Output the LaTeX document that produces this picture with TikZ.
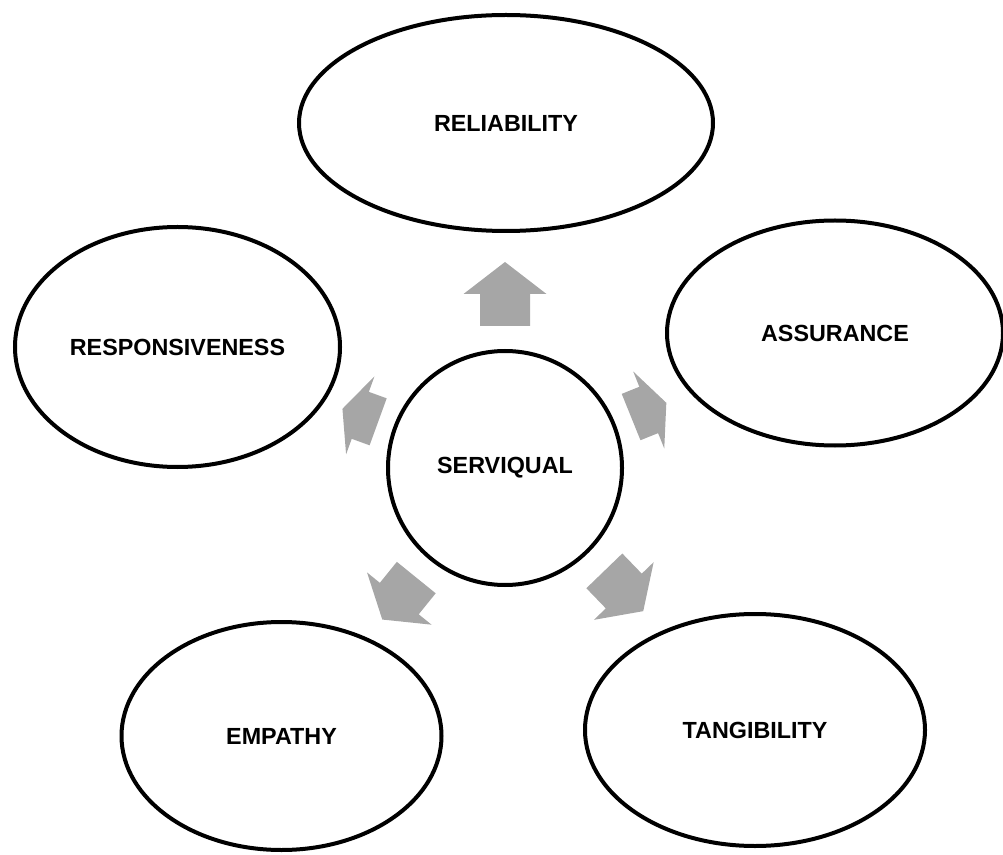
\documentclass[tikz,border=0pt]{standalone}
\usepackage{fontspec}
\setmainfont{Liberation Sans}
\usetikzlibrary{shapes.geometric}
\definecolor{arrowgray}{HTML}{A6A6A6}

% Block arrow pointing away from the hub.
% #1 = direction (degrees, y downwards), #2 = distance of the tail from the hub centre,
% #3 = total length (shaft and head share it equally)
\newcommand\hubarrow[3]{%
  \begin{scope}[shift={(sq.center)}, rotate=-#1]
    \fill[spoke] (#2,-25) -- ({#2+#3/2},-25) -- ({#2+#3/2},-41.5) -- ({#2+#3},0)
      -- ({#2+#3/2},41.5) -- ({#2+#3/2},25) -- (#2,25) -- cycle;
  \end{scope}}

\begin{document}
\begin{tikzpicture}[x=0.75pt, y=-0.75pt,
  bubble/.style={ellipse, draw=black, line width=3pt, fill=white, inner sep=0pt,
    font=\fontsize{17.5}{21}\selectfont\bfseries},
  spoke/.style={fill=arrowgray}]
\useasboundingbox (0,0) rectangle (1003,855);

% hub
\node[bubble, circle, minimum size=175.5pt] (sq) at (505,468) {SERVIQUAL};

% arrows radiating from the hub
\hubarrow{-90}{142}{64}
\hubarrow{-22}{136}{38}
\hubarrow{46}{143}{56}
\hubarrow{129}{141}{54}
\hubarrow{200}{135}{38}

% the five dimensions
\node[bubble, minimum width=310.5pt, minimum height=162pt] (rel) at (506,123) {RELIABILITY};
\node[bubble, minimum width=252pt, minimum height=168.75pt] (ass) at (835,333) {ASSURANCE};
\node[bubble, minimum width=255pt, minimum height=174pt] (tan) at (755,730) {TANGIBILITY};
\node[bubble, minimum width=240pt, minimum height=171pt] (emp) at (281.5,736) {EMPATHY};
\node[bubble, minimum width=243.75pt, minimum height=180pt] (res) at (177.5,347) {RESPONSIVENESS};
\end{tikzpicture}
\end{document}
